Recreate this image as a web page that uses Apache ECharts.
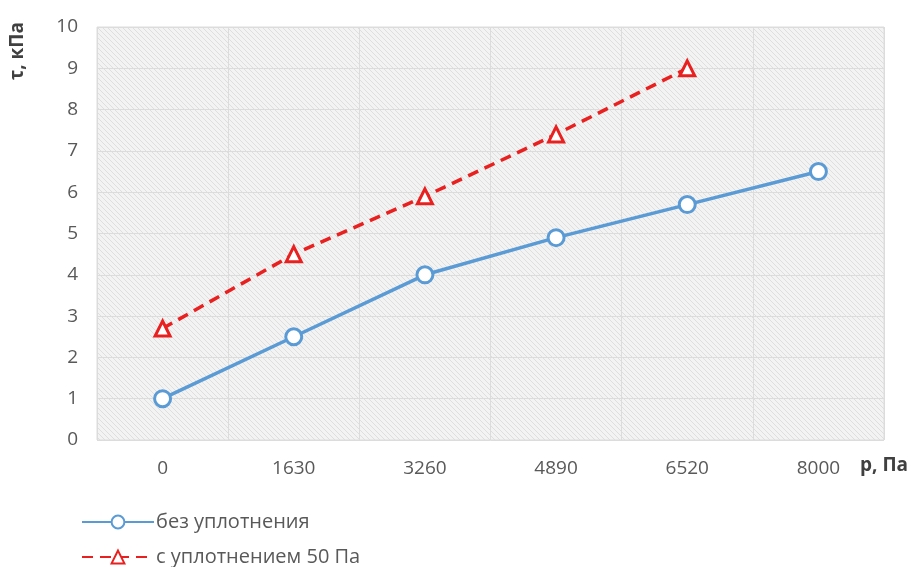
<!DOCTYPE html>
<html style="height: 100%">
<head>
<meta charset="utf-8">
<title>tau vs p</title>
<script src="https://cdn.jsdelivr.net/npm/echarts@6/dist/echarts.min.js"></script>
</head>
<body style="height: 100%; margin: 0; background: #fff">
<div id="container" style="width: 916px; height: 567px"></div>
<script type="text/javascript">
    // data
    let pressure = ['0', '1630', '3260', '4890', '6520', '8000'];
    let noCompaction = [1.0, 2.5, 4.0, 4.9, 5.7, 6.5];
    let withCompaction = [2.7, 4.5, 5.9, 7.4, 9.0];
    let yTicks = {min: 0, max: 10, step: 1};

    // hatched plot background
    let hatch = document.createElement('canvas');
    hatch.width = 5;
    hatch.height = 5;
    let hc = hatch.getContext('2d');
    hc.fillStyle = '#f3f3f3';
    hc.fillRect(0, 0, 5, 5);
    hc.strokeStyle = '#dedede';
    hc.lineWidth = 1;
    hc.beginPath();
    hc.moveTo(-1, -1); hc.lineTo(6, 6);
    hc.moveTo(-1, 4); hc.lineTo(1, 6);
    hc.moveTo(4, -1); hc.lineTo(6, 1);
    hc.stroke();

    let font = '"Open Sans", sans-serif';
    let chart = echarts.init(document.getElementById('container'));

    chart.setOption({
        animation: false,
        grid: {
            left: 97, right: 32, top: 27, bottom: 127,
            show: true,
            backgroundColor: {image: hatch, repeat: 'repeat'},
            borderColor: '#dddddd', borderWidth: 1
        },
        xAxis: {
            type: 'category',
            data: pressure,
            boundaryGap: true,
            axisLine: {show: false},
            axisTick: {show: false},
            axisLabel: {color: '#595959', fontSize: 19, fontFamily: font, margin: 19},
            splitLine: {show: true, lineStyle: {color: '#dcdcdc', width: 1}}
        },
        yAxis: {
            type: 'value',
            min: yTicks.min, max: yTicks.max, interval: yTicks.step,
            axisLine: {show: false},
            axisTick: {show: false},
            axisLabel: {color: '#595959', fontSize: 19, fontFamily: font, margin: 19},
            splitLine: {lineStyle: {color: '#dcdcdc', width: 1}}
        },
        legend: {
            orient: 'vertical',
            left: 76, top: 507,
            height: 60,
            itemWidth: 72, itemHeight: 16, itemGap: 15,
            textStyle: {color: '#595959', fontSize: 20, lineHeight: 20, fontFamily: font, padding: [0, 0, 0, -3]},
            data: ['без уплотнения', 'с уплотнением 50 Па']
        },
        graphic: [
            {type: 'text', left: 8, top: 22, rotation: Math.PI / 2,
             style: {text: 'τ, кПа', fill: '#404040', font: 'bold 19px ' + font}},
            {type: 'text', left: 860, top: 456,
             style: {text: 'р, Па', fill: '#404040', font: 'bold 19px ' + font}}
        ],
        series: [
            {
                name: 'без уплотнения',
                type: 'line',
                data: noCompaction,
                symbol: 'circle', symbolSize: 16,
                lineStyle: {color: '#5b9bd5', width: 3.5},
                itemStyle: {color: '#ffffff', borderColor: '#5b9bd5', borderWidth: 3}
            },
            {
                name: 'с уплотнением 50 Па',
                type: 'line',
                data: withCompaction,
                symbol: 'triangle', symbolSize: 15,
                lineStyle: {color: '#e8201f', width: 3.5, type: [11, 7]},
                itemStyle: {color: '#ffffff', borderColor: '#e8201f', borderWidth: 3}
            }
        ]
    });
</script>
</body>
</html>
